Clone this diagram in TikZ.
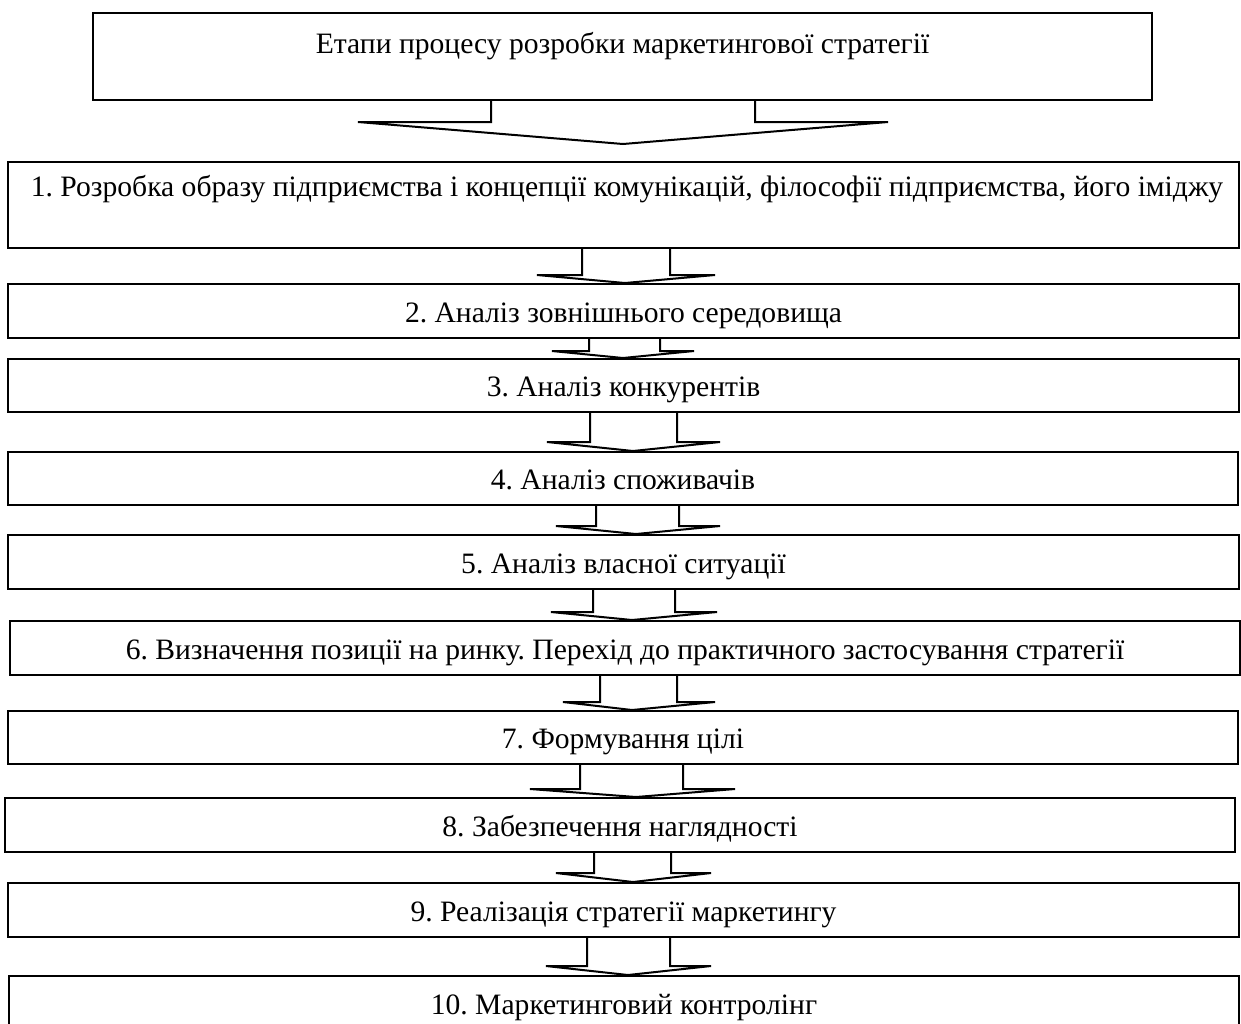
\documentclass[tikz,border=0pt]{standalone}
\usepackage{fontspec}
\setmainfont{Liberation Serif}
\frenchspacing
\usetikzlibrary{calc}
\tikzset{
  boxst/.style={draw, line width=1pt, rectangle, inner sep=0pt, text height=1.32em, text depth=0.22em},
  lbl/.style={inner sep=0pt, text height=0.72em, text depth=0.22em},
  arrline/.style={draw, line width=1pt}
}
\newcommand\blockarr[8]{%
  \draw[arrline] (#3,0 |- #1.south) -- (#3,#5) -- (#6,#5) -- (#8,0 |- #2.north) -- (#7,#5) -- (#4,#5) -- (#4,0 |- #1.south);}
\begin{document}
\begin{tikzpicture}[x=0.5pt,y=-0.5pt,font=\fontsize{14.8}{17}\selectfont]
\clip (0,0) rectangle (1241,1023);
\fill[white] (0,0) rectangle (1241,1023);
% top box
\node[boxst, minimum width={1059*0.5pt}, minimum height={87*0.5pt}] (b0) at (622.5,56.5) {};
\node[lbl] (t0) at (622.5,48) {Етапи процесу розробки маркетингової стратегії};
% box 1
\node[boxst, minimum width={1231*0.5pt}, minimum height={86*0.5pt}] (b1) at (623.5,205) {};
\node[lbl] (t1) at (627,191) {1. Розробка образу підприємства і~концепції комунікацій, філософії підприємства, його іміджу};
\node[boxst, minimum width={1231*0.5pt}, minimum height={54*0.5pt}] (b2) at (623.5,311) {2. Аналіз зовнішнього середовища};
\node[boxst, minimum width={1231*0.5pt}, minimum height={53*0.5pt}] (b3) at (623.5,385.5) {3. Аналіз конкурентів};
\node[boxst, minimum width={1230*0.5pt}, minimum height={53*0.5pt}] (b4) at (623,478.5) {4. Аналіз споживачів};
\node[boxst, minimum width={1231*0.5pt}, minimum height={54*0.5pt}] (b5) at (623.5,562) {5. Аналіз власної ситуації};
\node[boxst, minimum width={1230*0.5pt}, minimum height={54*0.5pt}] (b6) at (625,648) {6. Визначення позиції на ринку. Перехід до практичного застосування стратегії};
\node[boxst, minimum width={1230*0.5pt}, minimum height={53*0.5pt}] (b7) at (623,737.5) {7. Формування цілі};
\node[boxst, minimum width={1230*0.5pt}, minimum height={54*0.5pt}] (b8) at (620,825) {8. Забезпечення наглядності};
\node[boxst, minimum width={1231*0.5pt}, minimum height={54*0.5pt}] (b9) at (623.5,910) {9. Реалізація стратегії маркетингу};
\node[boxst, minimum width={1230*0.5pt}, minimum height={54*0.5pt}] (b10) at (624,1003) {10. Маркетинговий контролінг};
% arrow from top box
\coordinate (tip0) at (623,144);
\draw[arrline] (491,0 |- b0.south) -- (491,122) -- (358,122) -- (tip0) -- (888,122) -- (755,122) -- (755,0 |- b0.south);
\blockarr{b1}{b2}{582}{670}{275}{537}{715}{625}
\blockarr{b2}{b3}{589}{660}{351}{552}{694}{623}
\blockarr{b3}{b4}{590}{677}{442}{547}{720}{633}
\blockarr{b4}{b5}{596}{679}{526}{556}{720}{636}
\blockarr{b5}{b6}{593}{675}{612}{551}{717}{632}
\blockarr{b6}{b7}{600}{677}{702}{563}{715}{632}
\blockarr{b7}{b8}{580}{683}{789}{530}{735}{636}
\blockarr{b8}{b9}{594}{671}{873}{556}{711}{633}
\blockarr{b9}{b10}{587}{670}{966}{546}{711}{628}
\end{tikzpicture}
\end{document}
